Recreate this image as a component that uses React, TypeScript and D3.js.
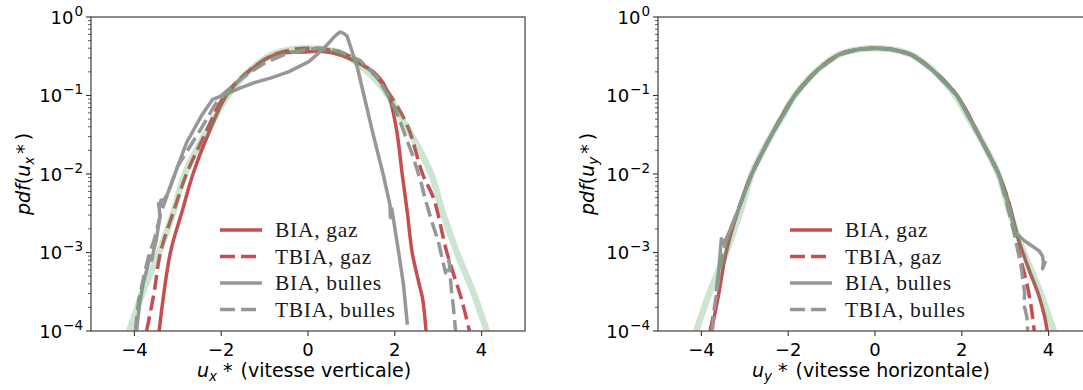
import React from 'react';
import * as d3 from 'd3';

const W = 1083;
const H = 390;
const TOP = 17;
const BOTTOM = 331;
const PW = 434;
const PANEL_X0 = [91, 658];

const RED = '#c44e52';
const GRAY = '#979797';
const GREEN = '#55a868';

const xTicks = [-4, -2, 0, 2, 4];
const yTickExps = [0, -1, -2, -3, -4];
const legendLabels = ['BIA, gaz', 'TBIA, gaz', 'BIA, bulles', 'TBIA, bulles'];

// Gaussian reference, same on both panels
const gaussX = [-4.12, -3.8, -3.43, -3.1, -2.84, -2.45, -2.15, -1.85, -1.33, -0.84, -0.4, 0, 0.4, 0.84, 1.33, 1.85, 2.15, 2.45, 2.84, 3.1, 3.43, 3.8, 4.12];
const gaussY = [1e-4, 3.2e-4, 1e-3, 3.3e-3, 1e-2, 2.7e-2, 5.2e-2, 0.1, 0.21, 0.33, 0.385, 0.4, 0.385, 0.33, 0.21, 0.1, 5.2e-2, 2.7e-2, 1e-2, 3.3e-3, 1e-3, 3.2e-4, 1e-4];

// Left panel (u_x)
const uxBiaGazX = [-3.43, -3.17, -2.91, -2.65, -2.28, -1.88, -1.33, -0.77, 0, 0.3, 0.8, 1.3, 1.53, 1.73, 1.89, 2.05, 2.17, 2.29, 2.4, 2.56, 2.64, 2.72];
const uxBiaGazY = [1e-4, 1e-3, 3.2e-3, 1e-2, 3.4e-2, 0.1, 0.21, 0.33, 0.36, 0.365, 0.32, 0.236, 0.195, 0.145, 0.089, 0.034, 0.01, 3.2e-3, 1e-3, 4e-4, 2.6e-4, 1e-4];

const uxTbiaGazX = [-3.72, -3.55, -3.4, -3.1, -2.8, -2.4, -1.92, -1.3, -0.8, -0.3, 0.1, 0.5, 1.0, 1.5, 1.9, 2.3, 2.64, 2.9, 3.2, 3.54, 3.72];
const uxTbiaGazY = [1e-4, 3e-4, 1e-3, 3.3e-3, 1e-2, 3e-2, 0.1, 0.22, 0.33, 0.39, 0.4, 0.38, 0.31, 0.19, 0.1, 0.04, 1e-2, 4.8e-3, 1e-3, 2.5e-4, 1e-4];

const uxBiaBulX = [-3.95, -3.88, -3.8, -3.7, -3.64, -3.6, -3.55, -3.5, -3.41, -3.44, -3.39, -3.39, -3.3, -3.23, -3.0, -2.8, -2.44, -2.2, -1.96, -1.56, -1.25, -0.85, -0.45, 0.02, 0.34, 0.62, 0.74, 0.82, 0.9, 1.13, 1.29, 1.49, 1.73, 1.89, 1.9, 1.93, 2.09, 2.2, 2.29];
const uxBiaBulY = [1e-4, 2.2e-4, 4e-4, 6.5e-4, 9e-4, 8e-4, 1.1e-3, 1.4e-3, 2.9e-3, 4.2e-3, 4e-3, 4.6e-3, 4.8e-3, 5.7e-3, 1.26e-2, 2.5e-2, 5.7e-2, 8.9e-2, 0.1, 0.125, 0.145, 0.168, 0.2, 0.27, 0.385, 0.57, 0.645, 0.62, 0.57, 0.236, 0.1, 0.034, 0.01, 4e-3, 2.8e-3, 3.6e-3, 1e-3, 3.9e-4, 1.2e-4];

const uxTbiaBulX = [-3.98, -3.9, -3.75, -3.65, -3.55, -3.39, -3.0, -2.5, -2.04, -1.5, -1.0, -0.5, 0, 0.3, 0.7, 1.2, 1.6, 2.0, 2.4, 2.6, 2.7, 2.85, 3.0, 3.1, 3.17, 3.25, 3.3, 3.35, 3.4];
const uxTbiaBulY = [1e-4, 2.5e-4, 6e-4, 1e-3, 1.4e-3, 3.2e-3, 1.26e-2, 3.5e-2, 9.5e-2, 0.17, 0.26, 0.34, 0.39, 0.4, 0.37, 0.28, 0.17, 0.07, 1.8e-2, 8e-3, 4.8e-3, 2.5e-3, 1.4e-3, 8e-4, 5.5e-4, 8e-4, 3.5e-4, 2e-4, 1e-4];

// Right panel (u_y)
const uyBiaGazX = [-3.77, -3.6, -3.43, -3.15, -2.84, -2.45, -1.85, -1.33, -0.84, -0.4, 0, 0.4, 0.84, 1.33, 1.89, 2.45, 2.85, 3.1, 3.3, 3.55, 3.76, 3.9, 3.97];
const uyBiaGazY = [1e-4, 3e-4, 1e-3, 3.5e-3, 1e-2, 2.7e-2, 0.1, 0.21, 0.33, 0.385, 0.4, 0.385, 0.33, 0.21, 0.1, 2.7e-2, 1e-2, 4e-3, 1.5e-3, 6e-4, 3e-4, 1.6e-4, 1e-4];

const uyTbiaGazX = [-3.8, -3.62, -3.45, -3.15, -2.84, -2.45, -1.85, -1.33, -0.84, -0.4, 0, 0.4, 0.84, 1.33, 1.89, 2.45, 2.85, 3.1, 3.3, 3.5, 3.6, 3.67];
const uyTbiaGazY = [1e-4, 3e-4, 1e-3, 3.5e-3, 1e-2, 2.7e-2, 0.1, 0.21, 0.33, 0.385, 0.4, 0.385, 0.33, 0.21, 0.1, 2.7e-2, 1e-2, 4e-3, 1.1e-3, 4e-4, 2e-4, 1e-4];

const uyBiaBulX = [-3.66, -3.6, -3.56, -3.54, -3.5, -3.4, -3.15, -2.84, -2.45, -1.85, -1.33, -0.84, -0.4, 0, 0.4, 0.84, 1.33, 1.89, 2.45, 2.85, 3.1, 3.23, 3.45, 3.63, 3.78, 3.86, 3.88, 3.86, 3.93];
const uyBiaBulY = [3.2e-4, 6e-4, 1.1e-3, 1.5e-3, 1.3e-3, 1.6e-3, 3.5e-3, 1e-2, 2.7e-2, 0.1, 0.21, 0.33, 0.385, 0.4, 0.385, 0.33, 0.21, 0.1, 2.7e-2, 1e-2, 3.6e-3, 1.8e-3, 1.4e-3, 1.2e-3, 1.05e-3, 9e-4, 7.5e-4, 6.2e-4, 7.8e-4];

const uyTbiaBulX = [-3.75, -3.7, -3.62, -3.55, -3.48, -3.4, -3.15, -2.84, -2.45, -1.85, -1.33, -0.84, -0.4, 0, 0.4, 0.84, 1.33, 1.89, 2.45, 2.85, 3.05, 3.2, 3.3, 3.38, 3.42, 3.45, 3.43, 3.5, 3.52];
const uyTbiaBulY = [1e-4, 2e-4, 4e-4, 7e-4, 1.1e-3, 1.6e-3, 3.5e-3, 1e-2, 2.7e-2, 0.1, 0.21, 0.33, 0.385, 0.4, 0.385, 0.33, 0.21, 0.1, 2.7e-2, 1e-2, 4e-3, 1.8e-3, 1e-3, 6e-4, 4e-4, 3e-4, 2.2e-4, 1.5e-4, 1e-4];

const DASH = '15,6';
const LW = 3.5;

const seriesStyles = [
  { color: RED, dash: undefined as string | undefined },
  { color: RED, dash: DASH },
  { color: GRAY, dash: undefined as string | undefined },
  { color: GRAY, dash: DASH },
];

const panels = [
  {
    data: [
      [uxBiaGazX, uxBiaGazY],
      [uxTbiaGazX, uxTbiaGazY],
      [uxBiaBulX, uxBiaBulY],
      [uxTbiaBulX, uxTbiaBulY],
    ],
    sub: 'x',
    desc: 'vitesse verticale',
    legendX: 220,
    ylabelX: 24,
  },
  {
    data: [
      [uyBiaGazX, uyBiaGazY],
      [uyTbiaGazX, uyTbiaGazY],
      [uyBiaBulX, uyBiaBulY],
      [uyTbiaBulX, uyTbiaBulY],
    ],
    sub: 'y',
    desc: 'vitesse horizontale',
    legendX: 790,
    ylabelX: 588,
  },
];

const SANS = 'DejaVu Sans';
const SERIF = 'Liberation Serif';
const TICK_FS = 18;
const SUP_FS = 13.5;
const LABEL_FS = 19;

function Panel({ idx }: { idx: number }) {
  const p = panels[idx];
  const x0 = PANEL_X0[idx];
  const x = d3.scaleLinear().domain([-5, 5]).range([x0, x0 + PW]);
  const y = d3.scaleLog().domain([1e-4, 1]).range([BOTTOM, TOP]);
  const clipId = `clip${idx}`;
  const mk = (xs: number[], ys: number[], smooth: boolean) =>
    d3
      .line<number>()
      .x((i) => x(xs[i]))
      .y((i) => y(Math.max(ys[i], 1e-6)))
      .curve(smooth ? d3.curveCatmullRom.alpha(0.5) : d3.curveLinear)(xs.map((_, i) => i)) || '';

  const minor: number[] = [];
  for (let e = -4; e < 0; e++) for (let k = 2; k <= 9; k++) minor.push(k * Math.pow(10, e));

  return (
    <g>
      <defs>
        <clipPath id={clipId}>
          <rect x={x0} y={TOP} width={PW} height={BOTTOM - TOP} />
        </clipPath>
      </defs>
      <g clipPath={`url(#${clipId})`}>
        {p.data.map(([xs, ys], i) => (
          <path
            key={i}
            d={mk(xs, ys, i === 0 || i === 1)}
            fill="none"
            stroke={seriesStyles[i].color}
            strokeWidth={LW}
            strokeDasharray={seriesStyles[i].dash}
            strokeLinejoin="round"
          />
        ))}
        <path d={mk(gaussX, gaussY, true)} fill="none" stroke={GREEN} strokeOpacity={0.3} strokeWidth={6.5} />
      </g>
      <rect x={x0} y={TOP} width={PW} height={BOTTOM - TOP} fill="none" stroke="#5a5a5a" strokeWidth={1.4} />
      {xTicks.map((t) => (
        <g key={t}>
          <line x1={x(t)} x2={x(t)} y1={BOTTOM} y2={BOTTOM + 5} stroke="#333" strokeWidth={1.1} />
          <text x={x(t)} y={356} fontFamily={SANS} fontSize={TICK_FS} textAnchor="middle" fill="#000">
            {t < 0 ? `\u2212${-t}` : `${t}`}
          </text>
        </g>
      ))}
      {minor.map((m, i) => (
        <line key={i} x1={x0 - 3} x2={x0} y1={y(m)} y2={y(m)} stroke="#333" strokeWidth={0.8} />
      ))}
      {yTickExps.map((e) => (
        <g key={e}>
          <line x1={x0 - 5} x2={x0} y1={y(Math.pow(10, e))} y2={y(Math.pow(10, e))} stroke="#333" strokeWidth={1.1} />
          <text x={x0 - 8} y={y(Math.pow(10, e)) + 6.5} fontFamily={SANS} fontSize={TICK_FS} textAnchor="end" fill="#000">
            10
            <tspan fontSize={SUP_FS} dy={-8} dx={1}>
              {e < 0 ? `\u2212${-e}` : `${e}`}
            </tspan>
          </text>
        </g>
      ))}
      <text x={x0 + PW / 2 - 4} y={377} fontFamily={SANS} fontSize={LABEL_FS} textAnchor="middle" fill="#000">
        <tspan fontStyle="italic">u</tspan>
        <tspan fontStyle="italic" fontSize={13.5} dy={4}>{p.sub}</tspan>
        <tspan dy={-4} dx={6}>*</tspan>
        <tspan dx={8}>{'(' + p.desc + ')'}</tspan>
      </text>
      <text
        transform={`translate(${p.ylabelX + 6},${(TOP + BOTTOM) / 2}) rotate(-90)`}
        fontFamily={SANS}
        fontSize={LABEL_FS}
        textAnchor="middle"
        fill="#000"
      >
        <tspan fontStyle="italic">pdf</tspan>
        <tspan>(</tspan>
        <tspan fontStyle="italic">u</tspan>
        <tspan fontStyle="italic" fontSize={13.5} dy={4}>{p.sub}</tspan>
        <tspan dy={-4} dx={3}>*</tspan>
        <tspan dx={4}>)</tspan>
      </text>
      {legendLabels.map((lab, i) => {
        const ly = 230 + i * 26.5;
        return (
          <g key={lab}>
            <line
              x1={p.legendX}
              x2={p.legendX + 42}
              y1={ly}
              y2={ly}
              stroke={seriesStyles[i].color}
              strokeWidth={LW}
              strokeDasharray={seriesStyles[i].dash}
            />
            <text x={p.legendX + 55} y={ly + 7} fontFamily={SERIF} fontSize={21.5} letterSpacing={0.7} fill="#1a1a1a">
              {lab}
            </text>
          </g>
        );
      })}
    </g>
  );
}

export default function App() {
  return (
    <svg
      width={W}
      height={H}
      viewBox={`0 0 ${W} ${H}`}
      style={{ position: 'absolute', left: 0, top: 0, background: '#fff' }}
    >
      <rect width={W} height={H} fill="#fff" />
      <Panel idx={0} />
      <Panel idx={1} />
    </svg>
  );
}
